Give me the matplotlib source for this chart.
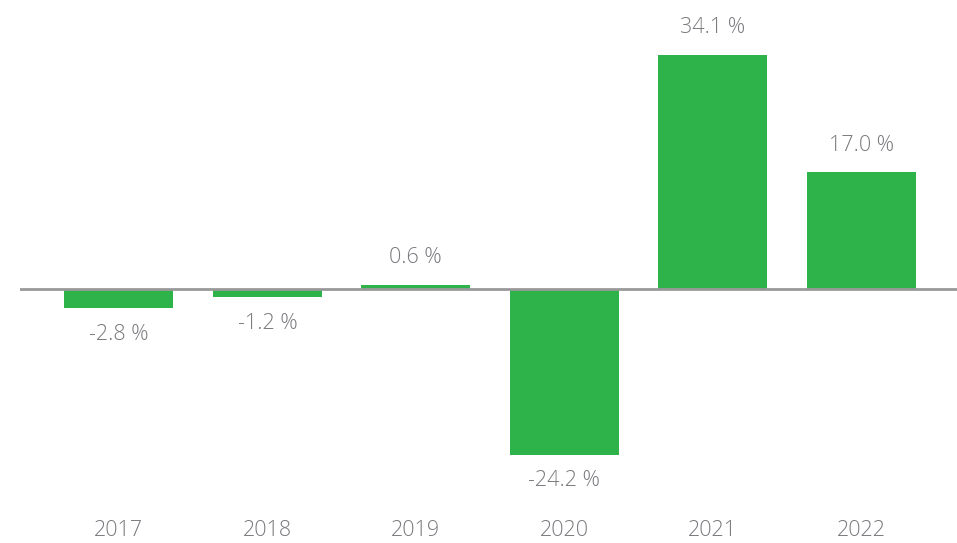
import matplotlib.pyplot as plt

years = ["2017", "2018", "2019", "2020", "2021", "2022"]
growth = [-2.8, -1.2, 0.6, -24.2, 34.1, 17.0]

bar_color = "#2db34a"
text_color = "#7a7a7f"

plt.rcParams["font.family"] = ["Open Sans", "DejaVu Sans"]

fig = plt.figure(figsize=(9.57, 5.43), dpi=100)
ax = fig.add_axes([20 / 957, 0, 1 - 20 / 957, 1])

x = list(range(len(years)))
ax.bar(x, growth, width=0.734, color=bar_color, zorder=2)
ax.axhline(0, color="#999999", linewidth=2, zorder=3)

ax.set_xlim(-0.666, 5.646)
ax.set_ylim(-37.0, 42.1)
ax.axis("off")

# value labels
for xi, v in zip(x, growth):
    if v >= 0:
        ax.annotate(f"{v:.1f} %", (xi, v), xytext=(0, 12), textcoords="offset points",
                    ha="center", va="bottom", fontsize=15.5, color=text_color,
                    fontweight="light")
    else:
        ax.annotate(f"{v:.1f} %", (xi, v), xytext=(0, -11), textcoords="offset points",
                    ha="center", va="top", fontsize=15.5, color=text_color,
                    fontweight="light")

# year labels along the bottom
for xi, yr in zip(x, years):
    ax.text(xi, -35.25, yr, ha="center", va="center", fontsize=15.5,
            color=text_color, fontweight="light")

fig.savefig("out.png", dpi=100)
